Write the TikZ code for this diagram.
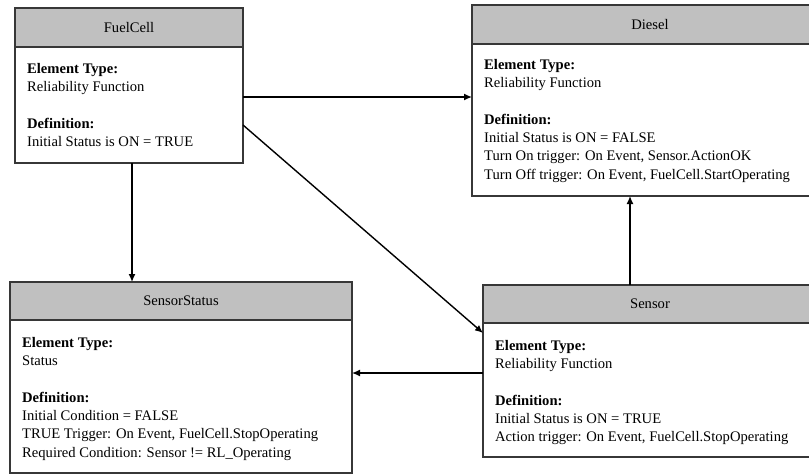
\documentclass[tikz,border=0pt]{standalone}
\usepackage{fontspec}
\setmainfont{Liberation Serif}
\usetikzlibrary{arrows.meta}
\definecolor{bordc}{RGB}{55,55,55}
\definecolor{hdrc}{RGB}{192,192,192}
\begin{document}
\begin{tikzpicture}[x=1pt,y=-1pt,
  txt/.style={font=\fontsize{14.6}{18.3}\selectfont},
  hdr/.style={txt, draw=bordc, line width=1.5pt, fill=hdrc, inner sep=0pt, outer sep=0pt, anchor=north west},
  bodybox/.style={draw=bordc, line width=1.5pt, fill=white, inner sep=0pt, outer sep=0pt, anchor=north west},
  bodytext/.style={txt, inner sep=0pt, anchor=north west, align=left},
  arr/.style={line width=1.4pt, black, -{Latex[length=8pt,width=7pt]}}]
\useasboundingbox (0,0) rectangle (809,474);
\fill[white] (0,0) rectangle (809,474);
\clip (0,0) rectangle (809,474);

% FuelCell
\node[bodybox, minimum width=228pt, minimum height=116pt] (fcb) at (15,47) {};
\node[hdr, minimum width=228pt, minimum height=39pt] (fch) at (15,8) {FuelCell};
\node[bodytext] (fct) at ([xshift=12pt,yshift=-16pt]fcb.north west)
  {\textbf{Element Type:}\\Reliability Function\\[18.3pt]\textbf{Definition:}\\Initial Status is ON = TRUE};

% Diesel
\node[bodybox, minimum width=356pt, minimum height=152pt] (dsb) at (472,44) {};
\node[hdr, minimum width=356pt, minimum height=39pt] (dsh) at (472,5) {Diesel};
\node[bodytext] (dst) at ([xshift=12pt,yshift=-15pt]dsb.north west)
  {\textbf{Element Type:}\\Reliability Function\\[18.3pt]\textbf{Definition:}\\Initial Status is ON = FALSE\\Turn On trigger: On Event, Sensor.ActionOK\\Turn Off trigger: On Event, FuelCell.StartOperating};

% SensorStatus
\node[bodybox, minimum width=342pt, minimum height=153pt] (ssb) at (10,320) {};
\node[hdr, minimum width=342pt, minimum height=38pt] (ssh) at (10,282) {SensorStatus};
\node[bodytext] (sst) at ([xshift=12pt,yshift=-17pt]ssb.north west)
  {\textbf{Element Type:}\\Status\\[18.3pt]\textbf{Definition:}\\Initial Condition = FALSE\\TRUE Trigger: On Event, FuelCell.StopOperating\\Required Condition: Sensor != RL\_Operating};

% Sensor
\node[bodybox, minimum width=334pt, minimum height=134pt] (snb) at (483,323) {};
\node[hdr, minimum width=334pt, minimum height=38pt] (snh) at (483,285) {Sensor};
\node[bodytext] (snt) at ([xshift=12pt,yshift=-17pt]snb.north west)
  {\textbf{Element Type:}\\Reliability Function\\[18.3pt]\textbf{Definition:}\\Initial Status is ON = TRUE\\Action trigger: On Event, FuelCell.StopOperating};

% connectors
\draw[arr] (fcb.east |- 0,97) -- (dsb.west |- 0,97);
\draw[arr] (fcb.east |- 0,125) -- (snb.west |- 0,333);
\draw[arr] (fcb.south -| 132,0) -- (ssh.north -| 132,0);
\draw[arr] (snh.north -| 630,0) -- (dsb.south -| 630,0);
\draw[arr] (snb.west |- 0,373) -- (ssb.east |- 0,373);
\end{tikzpicture}
\end{document}
